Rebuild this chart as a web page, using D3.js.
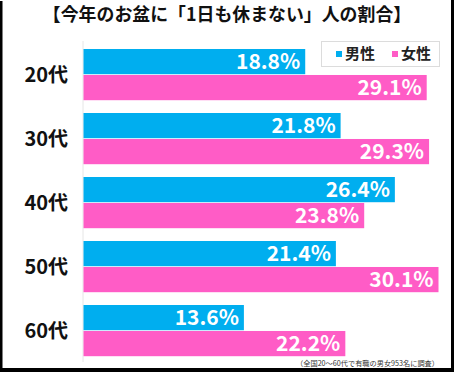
<!DOCTYPE html>
<html>
<head>
<meta charset="utf-8">
<script src="https://cdn.jsdelivr.net/npm/d3@7"></script>
<style>
  body { margin: 0; background: #fff; }
  svg { display: block; font-family: "Noto Sans CJK JP", "Noto Sans", sans-serif; }
</style>
</head>
<body>
<div id="chart"></div>
<script>
// データ
const categories = ["20代", "30代", "40代", "50代", "60代"];
const seriesNames = ["男性", "女性"];
const maleValues = [18.8, 21.8, 26.4, 21.4, 13.6];
const femaleValues = [29.1, 29.3, 23.8, 30.1, 22.2];
const titleText = "【今年のお盆に「1日も休まない」人の割合】";
const noteText = "（全国20～60代で有職の男女953名に調査）";

const W = 454, H = 372;
const colors = { "男性": "#00aeef", "女性": "#ff5cc6" };

const data = categories.map((c, i) => ({
  cat: c,
  values: [
    { key: "男性", value: maleValues[i] },
    { key: "女性", value: femaleValues[i] }
  ]
}));

const svg = d3.select("#chart")
  .append("svg")
    .attr("width", W)
    .attr("height", H);

svg.append("rect").attr("width", W).attr("height", H).attr("fill", "#fff");

// スケール
const x = d3.scaleLinear()
  .domain([0, 30.1])
  .range([83.5, 438.5]);

const y0 = d3.scaleBand()
  .domain(categories)
  .range([42.6, 362.6])
  .paddingInner(0.2)
  .paddingOuter(0.1);

const y1 = d3.scaleBand()
  .domain(seriesNames)
  .range([0, y0.bandwidth()])
  .paddingInner(0.03);

// タイトル
svg.append("text")
  .attr("x", W / 2)
  .attr("y", 21)
  .attr("text-anchor", "middle")
  .style("font-size", "17.9px")
  .style("font-weight", "bold")
  .attr("fill", "#111")
  .text(titleText);

// 軸線
svg.append("line")
  .attr("x1", x(0) - 0.5).attr("x2", x(0) - 0.5)
  .attr("y1", 41).attr("y2", 362)
  .attr("stroke", "#e6e6e6")
  .attr("stroke-width", 1);

// バー
const groups = svg.selectAll("g.grp")
  .data(data)
  .join("g")
    .attr("class", "grp")
    .attr("transform", d => `translate(0, ${y0(d.cat)})`);

groups.selectAll("rect")
  .data(d => d.values)
  .join("rect")
    .attr("x", x(0))
    .attr("y", d => y1(d.key))
    .attr("width", d => x(d.value) - x(0))
    .attr("height", y1.bandwidth())
    .attr("fill", d => colors[d.key]);

groups.selectAll("text.val")
  .data(d => d.values)
  .join("text")
    .attr("class", "val")
    .attr("x", d => x(d.value) - 5)
    .attr("y", d => y1(d.key) + y1.bandwidth() / 2)
    .attr("dy", "0.36em")
    .attr("text-anchor", "end")
    .style("font-size", "21px")
    .style("font-weight", "bold")
    .attr("fill", "#fff")
    .text(d => d.value.toFixed(1) + "%");

// カテゴリラベル
svg.append("g")
  .call(d3.axisLeft(y0).tickSize(0).tickPadding(0))
  .attr("transform", "translate(68, 0)")
  .call(g => g.select(".domain").remove())
  .call(g => g.selectAll("text")
    .attr("fill", "#111")
    .style("font-family", "\"Noto Sans CJK JP\", sans-serif")
    .style("font-size", "20px")
    .style("font-weight", "bold")
    .attr("dy", "0.36em"));

// 凡例
const legend = svg.append("g");
legend.append("rect")
  .attr("x", 321.5).attr("y", 41.5)
  .attr("width", 118).attr("height", 25)
  .attr("fill", "#fff")
  .attr("stroke", "#dcdcdc");

const legendX = [336, 392];
seriesNames.forEach((s, i) => {
  legend.append("rect")
    .attr("x", legendX[i]).attr("y", 51)
    .attr("width", 6).attr("height", 6)
    .attr("fill", colors[s]);
  legend.append("text")
    .attr("x", legendX[i] + 9)
    .attr("y", 54)
    .attr("dy", "0.36em")
    .style("font-size", "15px")
    .style("font-weight", "bold")
    .attr("fill", "#222")
    .text(s);
});

// 注記
svg.append("text")
  .attr("x", 439)
  .attr("y", 363)
  .attr("dy", "0.36em")
  .attr("text-anchor", "end")
  .style("font-size", "7.2px")
  .attr("fill", "#333")
  .text(noteText);

// 外枠の影
svg.append("rect").attr("x", 0).attr("y", 1).attr("width", 2.5).attr("height", H).attr("fill", "#000");
svg.append("rect").attr("x", 451).attr("y", 0).attr("width", 3).attr("height", H).attr("fill", "#000");
svg.append("rect").attr("x", 0).attr("y", 368).attr("width", W).attr("height", 4).attr("fill", "#000");
</script>
</body>
</html>
